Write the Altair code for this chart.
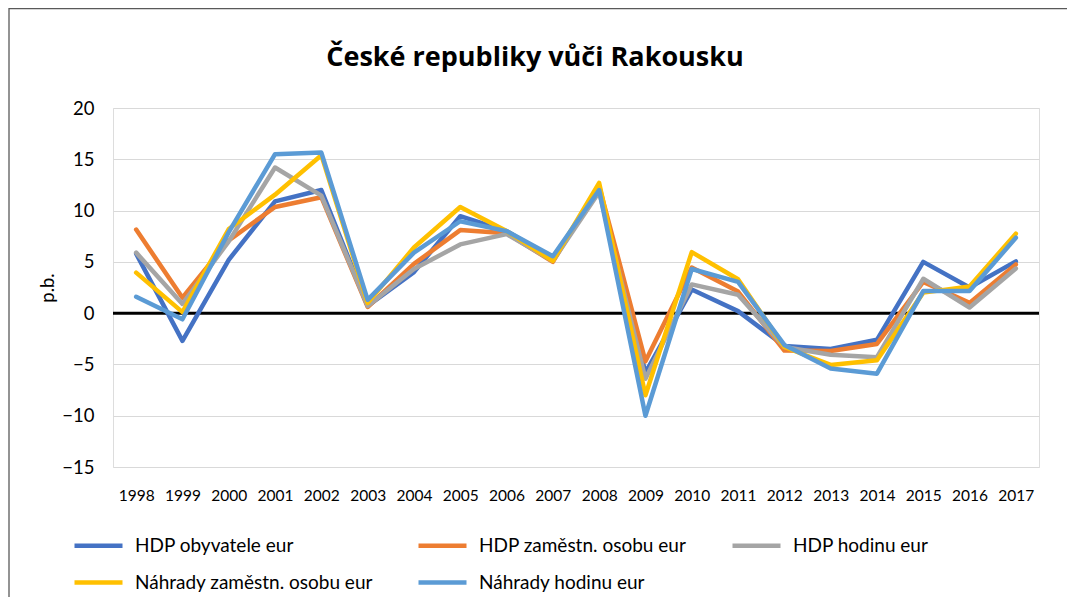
import altair as alt
import pandas as pd

years = [str(y) for y in range(1998, 2018)]
series_names = [
    "HDP obyvatele eur",
    "HDP zaměstn. osobu eur",
    "HDP hodinu eur",
    "Náhrady zaměstn. osobu eur",
    "Náhrady hodinu eur",
]
colors = ["#4472C4", "#ED7D31", "#A5A5A5", "#FFC000", "#5B9BD5"]

hdp_obyvatele = [5.8, -2.7, 5.2, 10.9, 12.0, 0.7, 4.0, 9.45, 8.0, 5.3,
                 12.0, -5.8, 2.3, 0.2, -3.2, -3.5, -2.6, 5.0, 2.5, 5.05]
hdp_zamestn = [8.15, 1.5, 7.1, 10.35, 11.3, 0.6, 4.8, 8.1, 7.8, 5.0,
               12.4, -4.7, 4.45, 2.1, -3.65, -3.7, -3.0, 3.05, 1.0, 4.75]
hdp_hodinu = [5.9, 0.9, 7.0, 14.2, 11.45, 0.7, 4.3, 6.7, 7.7, 5.1,
              11.8, -6.4, 2.8, 1.8, -3.3, -4.05, -4.3, 3.35, 0.55, 4.35]
nahr_zamestn = [3.95, 0.1, 8.2, 11.55, 15.4, 1.0, 6.4, 10.35, 8.0, 5.1,
                12.7, -8.0, 5.95, 3.3, -3.3, -5.05, -4.6, 2.0, 2.6, 7.75]
nahr_hodinu = [1.6, -0.6, 7.9, 15.5, 15.65, 1.3, 5.9, 8.96, 8.0, 5.55,
               12.0, -10.0, 4.3, 3.05, -3.1, -5.4, -5.9, 2.15, 2.15, 7.35]

all_series = [hdp_obyvatele, hdp_zamestn, hdp_hodinu, nahr_zamestn, nahr_hodinu]

# legend fills column by column: reorder so rows read like the reference
legend_order = [0, 3, 1, 4, 2]
legend_names = [series_names[i] for i in legend_order]
legend_colors = [colors[i] for i in legend_order]

rows = []
for i, (name, vals) in enumerate(zip(series_names, all_series)):
    for y, v in zip(years, vals):
        rows.append({"rok": y, "serie": name, "hodnota": v, "poradi": i})
df = pd.DataFrame(rows)

W, H = 926, 359
FONT = "Lato"
FRAME = "#595959"

frame_top = alt.Chart(pd.DataFrame({"a": [0]})).mark_rule(
    color=FRAME, strokeWidth=1.5
).encode(x=alt.value(-104), x2=alt.value(W + 200), y=alt.value(-99.5))

frame_left = alt.Chart(pd.DataFrame({"a": [0]})).mark_rule(
    color=FRAME, strokeWidth=1.3
).encode(x=alt.value(-104), y=alt.value(-100), y2=alt.value(H + 300))

lines = alt.Chart(df).mark_line(
    strokeWidth=4.5, strokeCap="round", strokeJoin="round"
).encode(
    x=alt.X("rok:N", sort=years,
            axis=alt.Axis(title=None, labelAngle=0, ticks=False, domain=False,
                          grid=False, labelFontSize=15.5, labelFont=FONT,
                          labelColor="#000000", labelPadding=21),
            scale=alt.Scale(paddingInner=0, paddingOuter=0)),
    y=alt.Y("hodnota:Q",
            scale=alt.Scale(domain=[-15, 20], nice=False, zero=False),
            axis=alt.Axis(values=list(range(-15, 21, 5)), title="p.b.",
                          titleFont=FONT, titleFontSize=18.5,
                          titleFontWeight="normal", titleColor="#000000",
                          titleX=-66, titleY=H / 2, titleAlign="center",
                          titleBaseline="middle", titleAngle=270,
                          ticks=False, domain=False, grid=True,
                          gridColor="#D9D9D9", gridWidth=1,
                          labelFont=FONT, labelFontSize=18.5,
                          labelColor="#000000", labelPadding=19)),
    color=alt.Color("serie:N", sort=legend_names,
                    scale=alt.Scale(domain=legend_names, range=legend_colors),
                    legend=alt.Legend(title=None, orient="none",
                                      legendX=-41, legendY=411,
                                      columns=3, columnPadding=36,
                                      rowPadding=-9,
                                      symbolType="stroke",
                                      symbolSize=2304,
                                      symbolStrokeWidth=4.5,
                                      labelFont=FONT, labelFontSize=19,
                                      labelColor="#000000",
                                      labelOffset=10, labelLimit=400)),
    detail="serie:N",
    order="poradi:Q",
)

zero = alt.Chart(pd.DataFrame({"z": [0]})).mark_rule(
    color="#000000", strokeWidth=3
).encode(y=alt.datum(0))

chart = alt.layer(frame_top, frame_left, zero, lines).properties(
    width=W, height=H,
    title=alt.TitleParams(
        "České republiky vůči Rakousku", font="Open Sans", fontSize=27,
        fontWeight="bold", color="#000000", anchor="middle", dx=-41,
        baseline="alphabetic", offset=-86),
    autosize=alt.AutoSizeParams(type="none"),
    padding={"left": 105, "top": 100, "right": 28, "bottom": 130},
).configure_view(stroke=None).configure(background="#FFFFFF")

chart.save("out.html", embed_options={"renderer": "svg", "actions": False})
